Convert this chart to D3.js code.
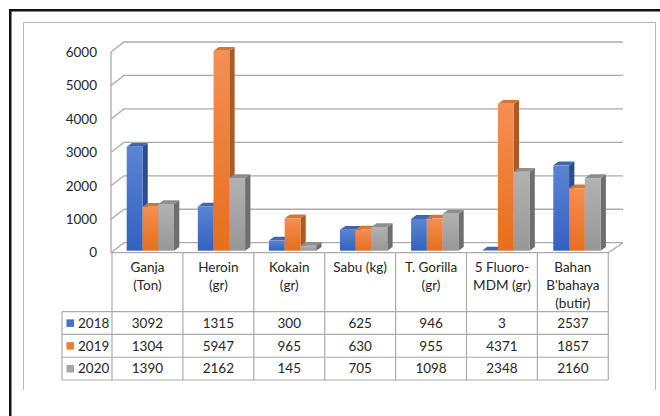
<!DOCTYPE html>
<html><head><meta charset="utf-8">
<script src="https://cdn.jsdelivr.net/npm/d3@7"></script>
<style>
html,body{margin:0;padding:0;background:#fff;}
svg{display:block;font-family:Lato,"Open Sans",sans-serif;}
</style></head>
<body>
<svg id="chart" width="660" height="416"></svg>
<script>
// ---- data ----
const categories = ["Ganja\n(Ton)", "Heroin\n(gr)", "Kokain\n(gr)", "Sabu (kg)", "T. Gorilla\n(gr)", "5 Fluoro-\nMDM (gr)", "Bahan\nB'bahaya\n(butir)"];
const years = ["2018", "2019", "2020"];
const values2018 = [3092, 1315, 300, 625, 946, 3, 2537];
const values2019 = [1304, 5947, 965, 630, 955, 4371, 1857];
const values2020 = [1390, 2162, 145, 705, 1098, 2348, 2160];
const yTicks = [0, 1000, 2000, 3000, 4000, 5000, 6000];
const seriesValues = [values2018, values2019, values2020];

// ---- styles ----
const colors = {
  "2018": {top: "#3f66b2", side: "#2c4d8c", g0: "#5b84d4", g1: "#3361bf", key: "#4472c4"},
  "2019": {top: "#d2763a", side: "#ad5a22", g0: "#f48f52", g1: "#e66f1c", key: "#ed7d31"},
  "2020": {top: "#8e8e8e", side: "#6e6e6e", g0: "#b2b2b2", g1: "#979797", key: "#a5a5a5"}
};
const gridColor = "#ababab";
const tableColor = "#ababab";
const textColor = "#262626";
const fontSize = 13.5;

const svg = d3.select("#chart");
svg.append("rect").attr("width", 660).attr("height", 416).attr("fill", "#fff");

// gradients
const defs = svg.append("defs");
years.forEach(yr => {
  const g = defs.append("linearGradient").attr("id", "g" + yr)
    .attr("x1", 0).attr("y1", 0).attr("x2", 0).attr("y2", 1);
  g.append("stop").attr("offset", 0).attr("stop-color", colors[yr].g0);
  g.append("stop").attr("offset", 1).attr("stop-color", colors[yr].g1);
});

// frames
svg.append("rect").attr("x", 10.25).attr("y", 10.25).attr("width", 720).attr("height", 500)
  .attr("fill", "none").attr("stroke", "#111").attr("stroke-width", 2.5);
svg.append("path").attr("d", "M23.5,390 V22.5 H655.5 V390")
  .attr("fill", "none").attr("stroke", "#b8b8b8").attr("stroke-width", 1);

// ---- geometry ----
const frontLeft = 111, frontRight = 608.3, backLeft = 124, backRight = 623;
const depthY = -10;
const yFront = d3.scaleLinear().domain([0, 6000]).range([252.7, 52]);

// walls
const walls = svg.append("g").attr("fill", "none").attr("stroke", gridColor).attr("stroke-width", 1.3);
yTicks.forEach(t => {
  const yf = yFront(t), yb = yf + depthY;
  walls.append("path").attr("d", `M${frontLeft},${yf} L${backLeft},${yb} H${backRight}`);
});
walls.append("line").attr("x1", frontLeft).attr("x2", frontLeft)
  .attr("y1", yFront(6000)).attr("y2", yFront(0));
walls.append("line").attr("x1", backRight).attr("y1", yFront(0) + depthY)
  .attr("x2", frontRight).attr("y2", yFront(0));

// y tick labels
svg.append("g").selectAll("text").data(yTicks).join("text")
  .attr("x", 97).attr("y", d => yFront(d)).attr("dy", "0.35em")
  .attr("text-anchor", "end").attr("font-size", fontSize).attr("fill", textColor)
  .text(d => d);

// ---- bars ----
const barPitch = 71.1;
const xBar = d3.scaleBand().domain(d3.range(categories.length))
  .range([126.7, 126.7 + barPitch * categories.length]);
const xInner = d3.scaleBand().domain(years).range([0, 47.3]);
const yBar = d3.scaleLinear().domain([0, 6000]).range([250.7, 48.9]);
const bdx = 5.3, bdy = -3.8;

const barsG = svg.append("g");
categories.forEach((c, ci) => {
  years.forEach((yr, si) => {
    const v = seriesValues[si][ci];
    const x = xBar(ci) + xInner(yr);
    const w = xInner.bandwidth();
    const top = yBar(v), bot = yBar(0);
    const g = barsG.append("g");
    g.append("path").attr("fill", colors[yr].side)
      .attr("d", `M${x + w},${top} L${x + w + bdx},${top + bdy} L${x + w + bdx},${bot + bdy} L${x + w},${bot}Z`);
    g.append("path").attr("fill", colors[yr].top)
      .attr("d", `M${x},${top} L${x + bdx},${top + bdy} L${x + w + bdx},${top + bdy} L${x + w},${top}Z`);
    if (bot - top > 0.5) {
      g.append("rect").attr("x", x).attr("y", top).attr("width", w).attr("height", bot - top)
        .attr("fill", `url(#g${yr})`);
    }
  });
});

// ---- data table ----
const xTable = d3.scaleBand().domain(d3.range(categories.length)).range([112, frontRight]);
const tableTop = yFront(0), headerBottom = 311.7, tableBottom = 380, legendLeft = 62;
const yRow = d3.scaleBand().domain(years).range([headerBottom, tableBottom]);

const tbl = svg.append("g").attr("stroke", tableColor).attr("stroke-width", 1.2);
tbl.append("line").attr("x1", frontLeft).attr("x2", frontRight).attr("y1", tableTop).attr("y2", tableTop);
[headerBottom, ...years.map(y => yRow(y) + yRow.bandwidth())].forEach(yy => {
  tbl.append("line").attr("x1", legendLeft).attr("x2", frontRight).attr("y1", yy).attr("y2", yy);
});
d3.range(categories.length + 1).forEach(i => {
  const xx = i < categories.length ? xTable(i) : frontRight;
  tbl.append("line").attr("x1", xx).attr("x2", xx).attr("y1", tableTop).attr("y2", tableBottom);
});
tbl.append("line").attr("x1", legendLeft).attr("x2", legendLeft).attr("y1", headerBottom).attr("y2", tableBottom);

// header labels
const hdr = svg.append("g").attr("font-size", fontSize).attr("fill", textColor).attr("text-anchor", "middle");
categories.forEach((c, ci) => {
  c.split("\n").forEach((line, li) => {
    hdr.append("text").attr("x", xTable(ci) + xTable.bandwidth() / 2)
      .attr("y", 267 + li * 18).attr("dy", "0.35em").text(line);
  });
});

// rows
years.forEach((yr, si) => {
  const cy = yRow(yr) + yRow.bandwidth() / 2;
  svg.append("rect").attr("x", 66.5).attr("y", cy - 3.7).attr("width", 7.5).attr("height", 7.5)
    .attr("fill", colors[yr].key);
  svg.append("text").attr("x", 78).attr("y", cy).attr("dy", "0.35em")
    .attr("font-size", fontSize).attr("fill", textColor).text(yr);
  svg.append("g").selectAll("text").data(seriesValues[si]).join("text")
    .attr("x", (d, i) => xTable(i) + xTable.bandwidth() / 2).attr("y", cy).attr("dy", "0.35em")
    .attr("text-anchor", "middle").attr("font-size", fontSize).attr("fill", textColor)
    .text(d => d);
});
</script>
</body></html>
